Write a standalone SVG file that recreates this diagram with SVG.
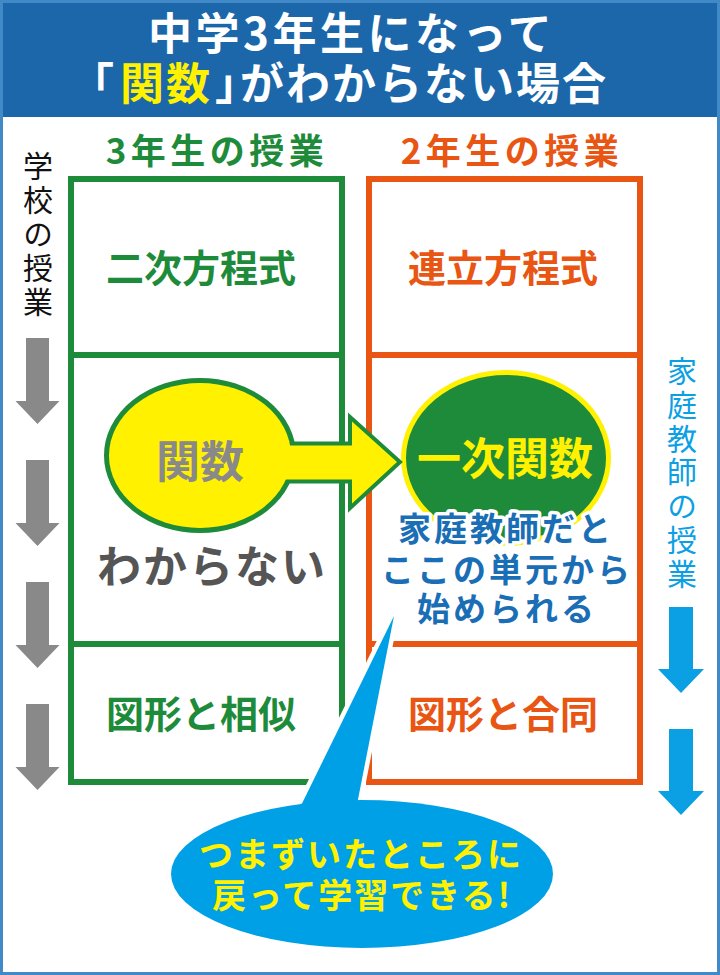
<svg xmlns="http://www.w3.org/2000/svg" width="720" height="975" viewBox="0 0 720 975">
<style>
text{font-family:"Noto Sans CJK JP","Noto Sans CJK SC",sans-serif;font-weight:700;text-anchor:middle}
.title{fill:#ffffff;font-size:44px;text-anchor:start}
.hd{font-size:35px;letter-spacing:4.5px}
.g{fill:#1e8b3b}
.o{fill:#e95513}
.box-g{fill:none;stroke:#1e8b3b;stroke-width:6}
.box-o{fill:none;stroke:#e95513;stroke-width:6}
.cell{font-size:38px}
.vt{font-size:30px;font-weight:400;writing-mode:vertical-rl;text-anchor:start}
.blue{fill:#1a6eb5;font-size:33px;letter-spacing:3px;stroke:#ffffff;stroke-width:7px;stroke-linejoin:round;paint-order:stroke}
.bub{fill:#fff100;font-size:34px;letter-spacing:2px}
.garrow{fill:#898989}
.barrow{fill:#0ba0e3}
</style>
<defs>
<path id="downG" d="M-11.5,0 H11.5 V63 H22 L0,86 L-22,63 H-11.5 Z"/>
<path id="downB" d="M-12,0 H12 V62 H23 L0,86 L-23,62 H-12 Z"/>
</defs>

<rect x="0" y="0" width="720" height="975" fill="#ffffff"/>

<g id="header">
<rect x="0" y="0" width="720" height="117" fill="#1b67aa"/>
<text class="title" x="148" y="50" letter-spacing="3.5">中学3年生になって</text>
<text class="title" x="70 120 166 215 240 286 332 378 424 470 516 562" y="100">「<tspan fill="#fff100">関数</tspan>」がわからない場合</text>
</g>
<rect x="1.5" y="1.5" width="717" height="972" fill="none" stroke="#4189c7" stroke-width="3"/>

<g id="school-label">
<text class="vt" fill="#111111" x="38" y="151" letter-spacing="4">学校の授業</text>
</g>

<g id="tutor-label">
<text class="vt" fill="#0ba0e3" x="682" y="356" letter-spacing="3.7">家庭教師の授業</text>
</g>

<g id="grade3">
<text class="hd g" x="217" y="164">3年生の授業</text>
<rect class="box-g" x="71" y="179" width="271" height="603"/>
<line class="box-g" x1="71" y1="355" x2="342" y2="355"/>
<line class="box-g" x1="71" y1="644" x2="342" y2="644"/>
</g>
<g id="grade2">
<text class="hd o" x="512" y="164">2年生の授業</text>
<rect class="box-o" x="369" y="179" width="271" height="603"/>
<line class="box-o" x1="369" y1="355" x2="640" y2="355"/>
<line class="box-o" x1="369" y1="644" x2="640" y2="644"/>
</g>

<g id="quadratic"><text class="cell g" x="201" y="282">二次方程式</text></g>
<g id="simultaneous"><text class="cell o" x="503" y="282">連立方程式</text></g>
<g id="similarity"><text class="cell g" x="201" y="728">図形と相似</text></g>
<g id="congruence"><text class="cell o" x="503" y="728">図形と合同</text></g>

<g id="linear-function">
<ellipse cx="506" cy="458" rx="102.5" ry="85.5" fill="#1e8b3b" stroke="#fff100" stroke-width="5"/>
<text x="505" y="475" fill="#fff100" font-size="44">一次関数</text>
</g>

<g id="connectors">
<use href="#downG" class="garrow" x="37.5" y="338"/>
<use href="#downG" class="garrow" x="37.5" y="460"/>
<use href="#downG" class="garrow" x="37.5" y="582"/>
<use href="#downG" class="garrow" x="37.5" y="704"/>
<use href="#downB" class="barrow" x="681" y="607"/>
<use href="#downB" class="barrow" x="681" y="729"/>
</g>

<g id="function">
<ellipse cx="200" cy="455.5" rx="91" ry="72.5" fill="none" stroke="#1e8b3b" stroke-width="10"/>
<path d="M270,445.5 H352 V421.5 L397,462 L352,503.5 V479.5 H270 Z" fill="none" stroke="#1e8b3b" stroke-width="8" stroke-linejoin="miter"/>
<ellipse cx="200" cy="455.5" rx="91" ry="72.5" fill="#fff100"/>
<path d="M270,445.5 H352 V421.5 L397,462 L352,503.5 V479.5 H270 Z" fill="#fff100"/>
<text x="200" y="478" fill="#898989" font-size="44">関数</text>
<text x="212" y="583" fill="#555555" font-size="44" letter-spacing="2">わからない</text>
</g>

<g id="tutor-note">
<text class="blue" x="506" y="541">家庭教師だと</text>
<text class="blue" x="507" y="582">ここの単元から</text>
<text class="blue" x="507" y="621">始められる</text>
</g>

<g id="callout">
<polygon points="394,616 352,830 289,830" fill="#ffffff" stroke="#ffffff" stroke-width="9" stroke-linejoin="round"/>
<ellipse cx="362" cy="874" rx="191" ry="74" fill="#00a0e6"/>
<polygon points="394,616 352,830 289,830" fill="#00a0e6"/>
<text class="bub" x="361" y="867">つまずいたところに</text>
<text class="bub" x="362" y="908">戻って学習できる!</text>
</g>
</svg>
